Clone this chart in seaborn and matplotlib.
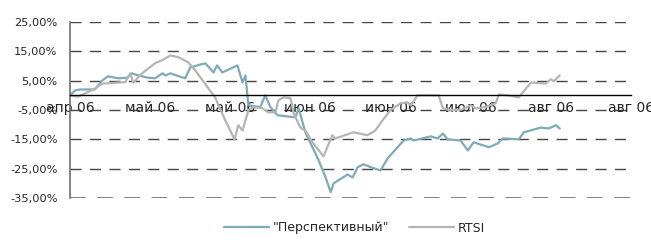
import numpy as np
import pandas as pd
import matplotlib
matplotlib.use("Agg")
import matplotlib.pyplot as plt
import seaborn as sns

# ---- data ----
series_names = ['"Перспективный"', "RTSI"]

fund_days = [0, 1.2, 2.4, 5.9, 7.6, 9.0, 11.4, 13.5, 14.7, 16.2, 18.5, 20.2, 21.9, 22.6,
             23.8, 27.3, 28.5, 30.9, 32.1, 34.0, 34.9, 36.1, 39.7, 40.9, 41.6, 42.3,
             45.1, 46.3, 47.5, 49.2, 53.4, 54.2, 55.8, 58.9, 60.6, 61.8, 62.5, 65.8,
             67.0, 68.2, 69.6, 71.3, 73.6, 75.3, 79.1, 80.8, 81.5, 85.5, 87.2, 88.4,
             89.5, 92.6, 94.3, 95.7, 99.3, 101.4, 102.6, 106.4, 107.6, 111.6, 113.5,
             115.2, 116.1]
fund_vals = [0.0, 1.7, 2.0, 2.0, 5.0, 6.5, 5.8, 6.0, 7.5, 6.8, 6.0, 5.8, 7.5, 6.8,
             7.5, 5.8, 9.5, 10.5, 10.9, 7.8, 10.2, 7.8, 10.2, 4.4, 6.8, -3.4,
             -4.0, 0.0, -4.0, -6.8, -7.5, -4.4, -12.6, -22.0, -28.0, -33.0, -30.0, -27.0,
             -28.0, -24.5, -23.5, -24.5, -25.6, -21.5, -15.4, -14.7, -15.4, -14.0, -14.7, -13.0,
             -15.0, -15.4, -18.8, -16.0, -17.7, -16.4, -14.7, -15.0, -12.6, -11.0, -11.3,
             -10.2, -11.3]

rtsi_days = [0, 1.9, 5.9, 7.6, 13.1, 14.3, 15.0, 17.1, 20.2, 21.9, 23.8, 25.7, 28.0,
             29.7, 32.8, 34.4, 36.8, 39.0, 39.9, 40.9, 42.3, 43.5, 45.6, 47.0, 48.7,
             49.4, 50.6, 52.3, 53.0, 54.6, 55.8, 57.5, 60.1, 62.2, 62.9, 67.2, 70.5,
             72.4, 74.1, 76.0, 78.4, 80.0, 80.8, 82.4, 87.4, 88.4, 89.8, 92.6, 95.0,
             96.2, 98.6, 100.9, 101.7, 103.8, 106.4, 109.3, 112.8, 114.0, 114.7, 116.1]
rtsi_vals = [0.0, -0.5, 2.3, 4.0, 4.5, 7.5, 4.3, 7.5, 11.0, 12.0, 13.6, 13.0, 11.3,
             8.5, 2.4, -0.7, -8.5, -15.0, -10.2, -12.0, -5.0, -4.0, -4.4, -5.8, -5.8,
             -1.7, -0.7, -1.0, -6.0, -11.0, -12.0, -16.0, -20.8, -13.6, -14.7, -12.6, -13.6,
             -12.0, -8.5, -5.0, -2.7, -2.4, -3.4, 0.0, 0.0, -4.4, -5.0, -5.0, -3.4,
             -4.4, -4.0, -2.7, 0.3, 0.0, -0.7, 4.4, 4.0, 5.5, 4.8, 6.8]

x_ticks = [0, 19, 38, 57, 76, 95, 114, 133]
x_tick_labels = ["апр 06", "май 06", "май 06", "июн 06", "июн 06", "июл 06", "авг 06", "авг 06"]
y_ticks = [25, 15, 5, -5, -15, -25, -35]

colors = {series_names[0]: "#7eaab9", series_names[1]: "#b5b5b5"}

df = pd.concat([
    pd.DataFrame({"day": fund_days, "value": fund_vals, "series": series_names[0]}),
    pd.DataFrame({"day": rtsi_days, "value": rtsi_vals, "series": series_names[1]}),
], ignore_index=True)

# ---- plot ----
sns.set_style("white")
plt.rcParams["font.family"] = ["DejaVu Sans"]

fig = plt.figure(figsize=(6.51, 2.40), dpi=100)
ax = fig.add_axes([70 / 651, 1 - 198 / 240, 561 / 651, 176 / 240])

for yt in y_ticks:
    ax.axhline(yt, color="#808080" if yt == -35 else "#454545",
               lw=1.4 if yt == -35 else 1.0, dashes=(8, 6), zorder=0)

sns.lineplot(data=df, x="day", y="value", hue="series", palette=colors,
             hue_order=series_names, sort=False, estimator=None, lw=1.6, ax=ax,
             legend=True)

ax.set_xlim(0, 133)
ax.set_ylim(-35, 25)
ax.set_xticks(x_ticks)
ax.set_xticklabels(x_tick_labels, fontsize=8.2)
ax.set_yticks(y_ticks)
ax.set_yticklabels([f"{v:.2f}%".replace(".", ",") for v in y_ticks], fontsize=8.2)
ax.set_xlabel("")
ax.set_ylabel("")

for s in ["top", "right"]:
    ax.spines[s].set_visible(False)
ax.spines["left"].set_color("#707070")
ax.spines["left"].set_linewidth(1.2)
ax.spines["bottom"].set_position(("data", 0))
ax.spines["bottom"].set_color("black")
ax.spines["bottom"].set_linewidth(1.0)
ax.tick_params(axis="x", direction="inout", length=5, width=0.8, color="black", pad=1.5)
ax.tick_params(axis="y", direction="out", length=3, width=0.8, color="#707070", pad=6)

handles, labels = ax.get_legend_handles_labels()
ax.get_legend().remove()
fig.legend(handles, labels, loc="center", bbox_to_anchor=(0.545, 0.05), ncol=2,
           frameon=False, fontsize=9, handlelength=3.6, columnspacing=1.6,
           handletextpad=0.3)

fig.savefig("out.png", dpi=100)
